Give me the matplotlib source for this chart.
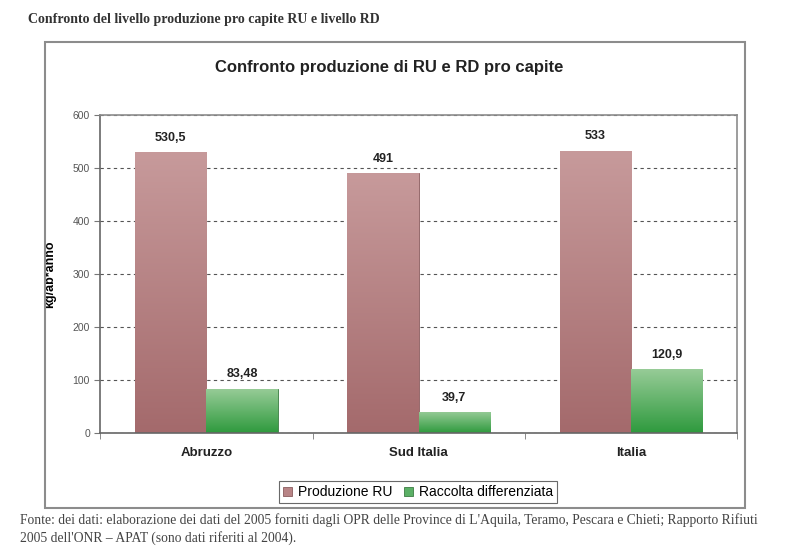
import numpy as np
from matplotlib import pyplot as plt
from matplotlib.patches import Rectangle
from matplotlib.colors import LinearSegmentedColormap

categories = ["Abruzzo", "Sud Italia", "Italia"]
produzione_ru = [530.5, 491, 533]
raccolta_rd = [83.48, 39.7, 120.9]
ru_labels = ["530,5", "491", "533"]
rd_labels = ["83,48", "39,7", "120,9"]
yticks = [0, 100, 200, 300, 400, 500, 600]

header = "Confronto del livello produzione pro capite RU e livello RD"
footer = ("Fonte: dei dati: elaborazione dei dati del 2005 forniti dagli OPR delle Province di L'Aquila, Teramo, Pescara e Chieti; Rapporto Rifiuti\n"
          "2005 dell'ONR \u2013 APAT (sono dati riferiti al 2004).")

plt.rcParams['font.family'] = ['Liberation Sans', 'DejaVu Sans']

fig = plt.figure(figsize=(7.9, 5.5), dpi=100)

# outer chart frame, like an excel chart pasted in a document
fig.patches.append(Rectangle((0.057, 0.076), 0.886, 0.848, transform=fig.transFigure,
                             fill=False, edgecolor="#8c8c8c", lw=1.5))
fig.text(0.035, 0.965, header, family="Liberation Serif", fontsize=10, fontweight="bold",
         color="#333333", va="center")
fig.text(0.025, 0.038, footer, family="Liberation Serif", fontsize=9.8, color="#444444",
         va="center", linespacing=1.3)
fig.text(0.493, 0.878, "Confronto produzione di RU e RD pro capite", ha="center",
         va="center", fontsize=12, fontweight="bold", color="#222222")

ax = fig.add_axes([0.127, 0.2127, 0.806, 0.578])
x = np.arange(len(categories))
w = 0.336
ru_cmap = LinearSegmentedColormap.from_list("ru", ["#a46a6c", "#c79a9b"])
rd_cmap = LinearSegmentedColormap.from_list("rd", ["#2f9a3e", "#98cc98"])

bars_ru = ax.bar(x - w / 2, produzione_ru, w, color="#b88486", edgecolor="#8a5c5e",
                 lw=0.6, label="Produzione RU", zorder=2)
bars_rd = ax.bar(x + w / 2, raccolta_rd, w, color="#5bb066", edgecolor="#3c7d44",
                 lw=0.6, label="Raccolta differenziata", zorder=2)

grad = np.linspace(0, 1, 100).reshape(-1, 1)
for bars, cmap in [(bars_ru, ru_cmap), (bars_rd, rd_cmap)]:
    for b in bars:
        x0, y0 = b.get_x(), b.get_y()
        im = ax.imshow(grad, cmap=cmap, origin="lower", aspect="auto", zorder=2.5,
                       extent=[x0, x0 + b.get_width(), y0, y0 + b.get_height()])
        im.set_clip_path(b)

for bars, labs in [(bars_ru, ru_labels), (bars_rd, rd_labels)]:
    for b, lab in zip(bars, labs):
        ax.annotate(lab, (b.get_x() + b.get_width() / 2, b.get_height()),
                    xytext=(0, 6), textcoords="offset points", ha="center",
                    va="bottom", fontsize=9, fontweight="bold", color="#222222")

ax.set_xlim(-0.5, len(categories) - 0.5)
ax.set_ylim(0, 600)
ax.set_yticks(yticks)
ax.set_yticklabels([str(t) for t in yticks], fontsize=7.5, color="#555555")
ax.set_xticks(x)
ax.set_xticklabels(categories, fontsize=9.5, fontweight="bold", color="#222222")
ax.tick_params(axis="x", length=0, pad=10)
ax.set_xticks([-0.5, 0.5, 1.5, 2.5], minor=True)
ax.tick_params(axis="x", which="minor", length=4, color="#777777")
ax.tick_params(axis="y", length=4, color="#777777")
ax.set_ylabel("kg/ab*anno", fontsize=9, fontweight="bold", labelpad=12)
ax.yaxis.grid(True, ls=(0, (3, 3)), color="#555555", lw=0.8, zorder=0)
ax.set_axisbelow(True)
for s in ax.spines.values():
    s.set_color("#8c8c8c")
    s.set_linewidth(1.2)
ax.spines["left"].set_color("#666666")
ax.spines["bottom"].set_color("#666666")

leg = ax.legend(loc="center", bbox_to_anchor=(0.529, 0.105), bbox_transform=fig.transFigure,
                ncol=2, fontsize=10, frameon=True, fancybox=False, edgecolor="#444444",
                handlelength=0.7, handleheight=0.7, handletextpad=0.4, columnspacing=0.8,
                borderpad=0.3)
leg.get_frame().set_linewidth(0.8)

fig.savefig("out.png", dpi=100)
